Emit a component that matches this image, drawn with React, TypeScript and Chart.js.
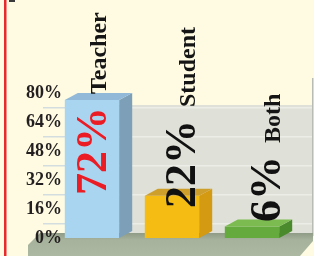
import React, { useEffect, useRef } from "react";
import { Chart, registerables } from "chart.js";

Chart.register(...registerables);

const categories = ["Teacher", "Student", "Both"];
const values = [72, 22, 6];
const valueLabels = ["72%", "22%", "6%"];
const yTicks = [0, 16, 32, 48, 64, 80];

const frontColors = ["#a9d5f1", "#f5bd14", "#64aa3c"];
const sideColors = ["#7d9fb8", "#d39a12", "#4a8a2c"];
const topColors = ["#92b9d8", "#cf9f2c", "#7cbb50"];
const valueColors = ["#ec1c24", "#111111", "#111111"];

const SERIF = '"Liberation Serif", "Times New Roman", serif';

const backgroundPlugin = {
  id: "bg3d",
  beforeDraw(chart: any) {
    const ctx = chart.ctx;
    const y = chart.scales.y;
    ctx.save();
    ctx.fillStyle = "#e62a2e";
    ctx.fillRect(4, 0, 2.5, 256);
    ctx.fillStyle = "#3a3a3a";
    ctx.fillRect(9, 0, 6, 2);
    const wallTop = y.getPixelForValue(80) + 12;
    const wallBottom = y.getPixelForValue(0) - 2;
    ctx.fillStyle = "#dfe0d7";
    ctx.fillRect(100, wallTop, 213, wallBottom - wallTop);
    yTicks.forEach((t) => {
      if (t === 0) return;
      const py = Math.round(y.getPixelForValue(t) + 14);
      ctx.fillStyle = "#d3dde0";
      ctx.fillRect(43, py, 24, 1.5);
      ctx.fillStyle = "#ededE7";
      ctx.fillRect(100, py, 212, 1.5);
    });
    ctx.fillStyle = "#b9bbb5";
    ctx.fillRect(312, 78, 1.5, wallBottom - 78);
    const fy = y.getPixelForValue(0) - 5;
    const grad = ctx.createLinearGradient(0, fy, 0, 256);
    grad.addColorStop(0, "#8f9b86");
    grad.addColorStop(0.3, "#a6b29b");
    grad.addColorStop(1, "#adb8a3");
    ctx.fillStyle = grad;
    ctx.beginPath();
    ctx.moveTo(28, 256);
    ctx.lineTo(28, fy + 12);
    ctx.lineTo(40, fy);
    ctx.lineTo(313, fy);
    ctx.lineTo(313, fy + 8);
    ctx.lineTo(300, 256);
    ctx.closePath();
    ctx.fill();
    ctx.restore();
  },
};

const bar3dPlugin = {
  id: "bar3d",
  afterDatasetsDraw(chart: any) {
    const ctx = chart.ctx;
    const meta = chart.getDatasetMeta(0);
    const dx = 13;
    const dy = -7;
    const labelStart = [43, 30, 16];
    const labelShift = [14, 23, 28];
    ctx.save();
    meta.data.forEach((bar: any, i: number) => {
      const { x, y, base, width } = bar.getProps(["x", "y", "base", "width"], true);
      const l = x - width / 2;
      const r = x + width / 2;
      ctx.fillStyle = sideColors[i];
      ctx.beginPath();
      ctx.moveTo(r, y);
      ctx.lineTo(r + dx, y + dy);
      ctx.lineTo(r + dx, base + dy);
      ctx.lineTo(r, base);
      ctx.closePath();
      ctx.fill();
      ctx.fillStyle = topColors[i];
      ctx.beginPath();
      ctx.moveTo(l, y);
      ctx.lineTo(l + dx, y + dy);
      ctx.lineTo(r + dx, y + dy);
      ctx.lineTo(r, y);
      ctx.closePath();
      ctx.fill();
    });
    meta.data.forEach((bar: any, i: number) => {
      const { x, base } = bar.getProps(["x", "base"], true);
      ctx.save();
      ctx.translate(x + labelShift[i], base - labelStart[i]);
      ctx.rotate(-Math.PI / 2);
      ctx.textAlign = "left";
      ctx.textBaseline = "alphabetic";
      ctx.font = `bold 44px ${SERIF}`;
      ctx.fillStyle = valueColors[i];
      ctx.fillText(valueLabels[i], 0, 0);
      const w = ctx.measureText(valueLabels[i]).width;
      ctx.font = `bold 24px ${SERIF}`;
      ctx.fillStyle = "#151515";
      ctx.fillText(categories[i], w + 13, 0);
      ctx.restore();
    });
    ctx.restore();
  },
};

export default function App() {
  const ref = useRef<HTMLCanvasElement>(null);
  useEffect(() => {
    if (!ref.current) return;
    const chart = new Chart(ref.current, {
      type: "bar",
      data: {
        labels: categories,
        datasets: [
          {
            data: values,
            yAxisID: "bars",
            backgroundColor: frontColors,
            borderWidth: 0,
            barPercentage: 1,
            categoryPercentage: 0.68,
            clip: false as any,
          },
        ],
      },
      options: {
        responsive: false,
        animation: false,
        events: [],
        layout: { padding: { top: 93, bottom: 18, left: 0, right: 62 } },
        plugins: { legend: { display: false }, tooltip: { enabled: false } },
        scales: {
          x: { display: false, offset: false },
          bars: { display: false, min: 0, max: 75.6 },
          y: {
            min: 0,
            max: 80,
            afterFit: (scale: any) => {
              scale.width = 92;
              scale.paddingTop = 0;
              scale.paddingBottom = 0;
            },
            afterBuildTicks: (scale: any) => {
              scale.ticks = yTicks.map((v) => ({ value: v }));
            },
            border: { display: false },
            grid: { display: false, drawTicks: false },
            ticks: {
              padding: 30,
              color: "#231f20",
              font: { family: SERIF, size: 18, weight: "bold" },
              callback: (v: any) => `${v}%`,
            },
          },
        },
      },
      plugins: [backgroundPlugin, bar3dPlugin],
    });
    return () => chart.destroy();
  }, []);
  return (
    <div
      style={{
        position: "fixed",
        left: 0,
        top: 0,
        width: 314,
        height: 256,
        background: "#fefbe2",
      }}
    >
      <canvas ref={ref} width={314} height={256} style={{ display: "block" }} />
    </div>
  );
}
